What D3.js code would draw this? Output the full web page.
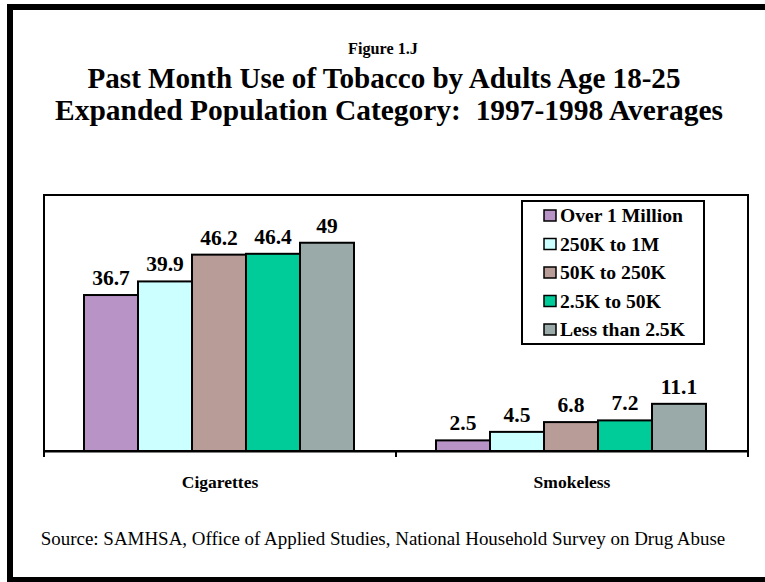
<!DOCTYPE html>
<html>
<head>
<meta charset="utf-8">
<script src="https://cdn.jsdelivr.net/npm/d3@7"></script>
<style>
  html, body { margin: 0; padding: 0; background: #fff; }
  svg { display: block; }
</style>
</head>
<body>
<svg id="chart" width="765" height="582"></svg>
<script>
// Tobacco use categories (x groups)
const categories = ["Cigarettes", "Smokeless"];
// Population size classes (series)
const seriesNames = ["Over 1 Million", "250K to 1M", "50K to 250K", "2.5K to 50K", "Less than 2.5K"];
// Percent using, one array per category, in series order
const cigarettes = [36.7, 39.9, 46.2, 46.4, 49];
const smokeless = [2.5, 4.5, 6.8, 7.2, 11.1];
const valueLabels = [["36.7", "39.9", "46.2", "46.4", "49"], ["2.5", "4.5", "6.8", "7.2", "11.1"]];
const seriesColors = ["#B893C6", "#CCFFFF", "#B89C98", "#00CC99", "#99AAA9"];

const rows = [cigarettes, smokeless];
const FONT = "Liberation Serif";

const svg = d3.select("#chart").attr("font-family", FONT);

// outer frame
svg.append("rect")
  .attr("x", 10).attr("y", 7)
  .attr("width", 800).attr("height", 573)
  .attr("fill", "none").attr("stroke", "#000").attr("stroke-width", 6);

// shrink/grow a text's font so it spans the given width
function fitWidth(sel, target) {
  const node = sel.node();
  const fs = parseFloat(sel.attr("font-size"));
  const w = node.getComputedTextLength();
  sel.attr("font-size", (fs * target / w).toFixed(2));
}

// titles
const t0 = svg.append("text").attr("x", 383).attr("y", 54)
  .attr("text-anchor", "middle").attr("font-weight", "bold").attr("font-size", 16)
  .text("Figure 1.J");
fitWidth(t0, 70);
const t1 = svg.append("text").attr("x", 384).attr("y", 88)
  .attr("text-anchor", "middle").attr("font-weight", "bold").attr("font-size", 29)
  .text("Past Month Use of Tobacco by Adults Age 18-25");
fitWidth(t1, 593);
const t2 = svg.append("text").attr("x", 389).attr("y", 120)
  .attr("text-anchor", "middle").attr("font-weight", "bold").attr("font-size", 29)
  .style("white-space", "pre")
  .text("Expanded Population Category:  1997-1998 Averages");
fitWidth(t2, 668);

// plot area
const plot = { left: 44, right: 748, top: 195, bottom: 451 };

const x0 = d3.scaleBand().domain(categories).range([plot.left, plot.right]).paddingInner(0).paddingOuter(0);
const x1 = d3.scaleBand().domain(seriesNames).range([40, x0.bandwidth() - 42]).padding(0);
const y = d3.scaleLinear().domain([0, 60]).range([plot.bottom, plot.top + 1]);

svg.append("rect")
  .attr("x", plot.left).attr("y", plot.top)
  .attr("width", plot.right - plot.left).attr("height", plot.bottom - plot.top)
  .attr("fill", "#fff").attr("stroke", "#000").attr("stroke-width", 2);

const groups = svg.selectAll("g.cat")
  .data(categories)
  .join("g")
  .attr("class", "cat")
  .attr("transform", d => `translate(${x0(d)},0)`);

groups.each(function (cat, ci) {
  const g = d3.select(this);
  const vals = rows[ci].map((v, si) => ({ name: seriesNames[si], v, si, label: valueLabels[ci][si] }));
  g.selectAll("rect.bar").data(vals).join("rect")
    .attr("class", "bar")
    .attr("x", d => x1(d.name))
    .attr("y", d => y(d.v))
    .attr("width", x1.bandwidth())
    .attr("height", d => y(0) - y(d.v))
    .attr("fill", d => seriesColors[d.si])
    .attr("stroke", "#000").attr("stroke-width", 2);
  g.selectAll("text.val").data(vals).join("text")
    .attr("class", "val")
    .attr("x", d => x1(d.name) + x1.bandwidth() / 2)
    .attr("y", d => y(d.v) - 10)
    .attr("text-anchor", "middle").attr("font-weight", "bold").attr("font-size", 21.5)
    .text(d => d.label);
});

// category axis
const xAxis = d3.axisBottom(x0).tickSize(0).tickPadding(0).tickFormat("");
const axG = svg.append("g").attr("transform", `translate(0,${plot.bottom})`).call(xAxis);
axG.attr("font-family", null);
axG.select(".domain").attr("stroke", "#000").attr("stroke-width", 2);
const boundaries = [plot.left, x0(categories[1]), plot.right];
svg.selectAll("line.tick").data(boundaries).join("line")
  .attr("class", "tick")
  .attr("x1", d => d).attr("x2", d => d)
  .attr("y1", plot.bottom).attr("y2", plot.bottom + 6)
  .attr("stroke", "#000").attr("stroke-width", 2);
svg.selectAll("text.cat").data(categories).join("text")
  .attr("class", "cat")
  .attr("x", d => x0(d) + x0.bandwidth() / 2)
  .attr("y", 488)
  .attr("text-anchor", "middle").attr("font-weight", "bold").attr("font-size", 17.5)
  .text(d => d);

// legend
const leg = svg.append("g");
leg.append("rect")
  .attr("x", 522).attr("y", 201).attr("width", 182).attr("height", 143)
  .attr("fill", "#fff").attr("stroke", "#000").attr("stroke-width", 2);
const rowY = d3.scalePoint().domain(seriesNames).range([216, 330]);
const items = leg.selectAll("g.item").data(seriesNames).join("g")
  .attr("class", "item")
  .attr("transform", d => `translate(0,${rowY(d)})`);
items.append("rect")
  .attr("x", 544).attr("y", -6).attr("width", 12).attr("height", 11)
  .attr("fill", (d, i) => seriesColors[i]).attr("stroke", "#000").attr("stroke-width", 1.5);
const legText = items.append("text")
  .attr("x", 560).attr("y", 6)
  .attr("font-weight", "bold").attr("font-size", 18)
  .text(d => d);
// size legend text so the longest entry spans its measured width
{
  const w = legText.nodes()[0].getComputedTextLength();
  legText.attr("font-size", (18 * 123 / w).toFixed(2));
}

// source note
const src = svg.append("text").attr("x", 383).attr("y", 545)
  .attr("text-anchor", "middle").attr("font-size", 16)
  .text("Source: SAMHSA, Office of Applied Studies, National Household Survey on Drug Abuse");
fitWidth(src, 685);
</script>
</body>
</html>
